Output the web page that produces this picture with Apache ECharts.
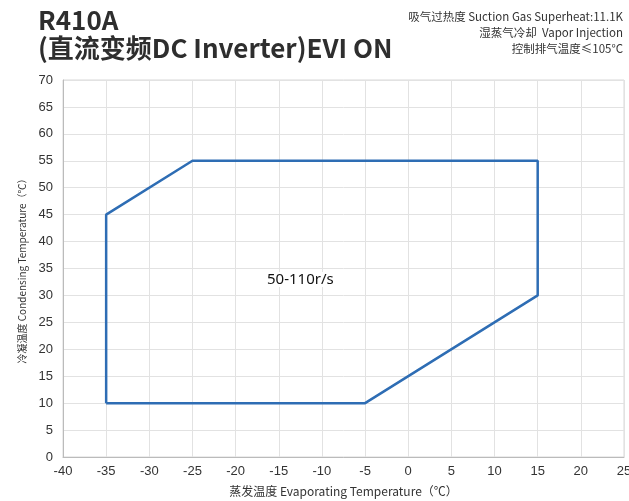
<!DOCTYPE html>
<html>
<head>
<meta charset="UTF-8">
<script src="https://cdn.jsdelivr.net/npm/echarts@6/dist/echarts.min.js"></script>
<style>
  html, body { margin: 0; padding: 0; background: #fff; }
  #chart { width: 629px; height: 501px; }
</style>
</head>
<body>
<div id="chart"></div>
<script>
// envelope corners: evaporating temp, condensing temp
var evapTemp = [-35, -35, -25, 15, 15, -5, -35];
var condTemp = [10, 45, 55, 55, 30, 10, 10];
var titleLines = ['R410A', '(直流变频DC Inverter)EVI ON'];
var noteLines = ['吸气过热度 Suction Gas Superheat:11.1K', '湿蒸气冷却  Vapor Injection', '控制排气温度≤105°C'];
var areaLabel = '50-110r/s';

var chart = echarts.init(document.getElementById('chart'));
var pts = evapTemp.map(function (x, i) { return [x, condTemp[i]]; });

chart.setOption({
    animation: false,
    grid: { left: 63, right: 5, top: 80, bottom: 44, outerBoundsMode: 'none',
            show: true, borderColor: '#d8d8d8', borderWidth: 1 },
    xAxis: {
        type: 'value', min: -40, max: 25, interval: 5,
        name: '蒸发温度 Evaporating Temperature（℃）',
        nameLocation: 'middle', nameGap: 28,
        nameTextStyle: { fontFamily: 'Noto Sans CJK SC', fontSize: 12, color: '#333' },
        axisLine: { onZero: false, lineStyle: { color: '#bbb' } },
        axisTick: { show: false },
        axisLabel: { fontFamily: 'Liberation Sans', fontSize: 13, color: '#333', margin: 8 },
        splitLine: { lineStyle: { color: '#e2e2e2' } }
    },
    yAxis: {
        type: 'value', min: 0, max: 70, interval: 5,
        name: '冷凝温度 Condensing Temperature（℃）',
        nameLocation: 'middle', nameGap: 36, nameRotate: 90,
        nameTextStyle: { fontFamily: 'Noto Sans CJK SC', fontSize: 10, color: '#333' },
        axisLine: { show: true, onZero: false, lineStyle: { color: '#bbb' } },
        axisTick: { show: false },
        axisLabel: { fontFamily: 'Liberation Sans', fontSize: 13, color: '#333', margin: 10 },
        splitLine: { lineStyle: { color: '#e2e2e2' } }
    },
    graphic: [
        { type: 'text', x: 38, y: 6,
          style: { text: titleLines.join('\n'), font: 'bold 26px "Noto Sans CJK SC"', lineHeight: 28, fill: '#2e2e2e' } },
        { type: 'text', x: 623, y: 9,
          style: { text: noteLines.join('\n'), font: '11.5px "Noto Sans CJK SC"', lineHeight: 16, fill: '#333', align: 'right' } },
        { type: 'text', x: 266, y: 272, z: 10,
          style: { text: areaLabel, font: '15px "Noto Sans"', fill: '#111', backgroundColor: '#fff', padding: [0, 1] } }
    ],
    series: [{
        type: 'line',
        data: pts,
        symbol: 'none',
        lineStyle: { color: '#2e6db4', width: 2.5 }
    }]
});
</script>
</body>
</html>
